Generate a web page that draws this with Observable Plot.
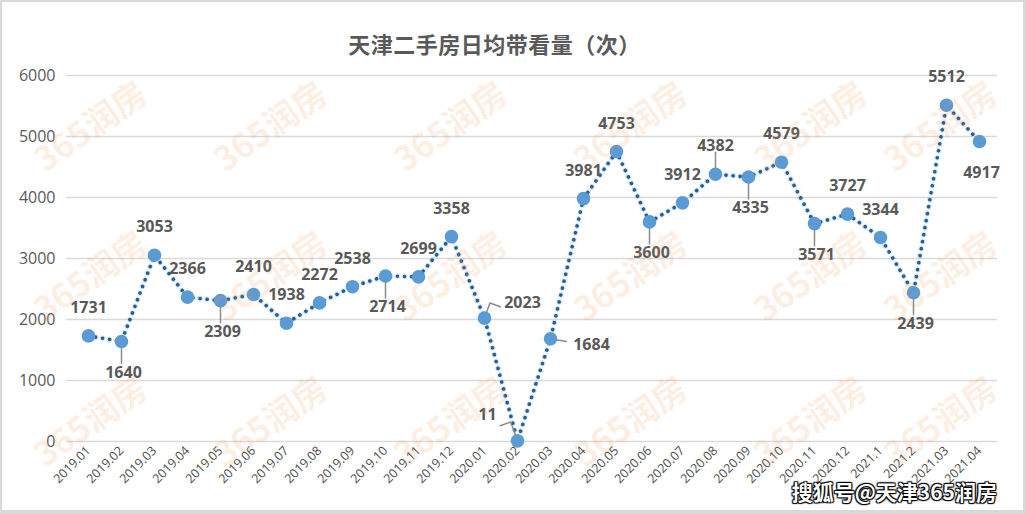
<!DOCTYPE html>
<html>
<head>
<meta charset="utf-8">
<script src="https://cdn.jsdelivr.net/npm/d3@7"></script>
<script src="https://cdn.jsdelivr.net/npm/@observablehq/plot@0.6"></script>
<style>
  html, body { margin: 0; padding: 0; background: #fff; }
  #wrap { position: relative; width: 1025px; height: 514px; overflow: hidden; background: #fff; }
  #frame { position: absolute; left: 0; top: 0; width: 1025px; height: 514px; box-sizing: border-box; border: 2px solid #d9d9d9; border-bottom-width: 4px; pointer-events: none; }
  #title { height: 60px; box-sizing: border-box; padding-top: 30px; padding-right: 36px; text-align: center; font: bold 22px/28px "Noto Sans CJK SC", "Noto Sans", sans-serif; color: #595959; }
  #title span { position: relative; top: -1px; letter-spacing: 0.5px; }
  .wm { position: absolute; font: bold 34px "Noto Sans CJK SC", sans-serif; color: rgba(244,150,80,0.16); transform: rotate(-35deg); white-space: nowrap; pointer-events: none; }
  #credit { position: absolute; right: 28px; top: 476px; font: bold 21px "Noto Sans CJK SC", sans-serif; color: #fff; text-shadow: 0 0 1px #000, 1px 1px 1px #000, -1px -1px 1px #000, 1px -1px 1px #000, -1px 1px 1px #000; }
</style>
</head>
<body>
<div id="wrap">
  <div id="title"><span>天津二手房日均带看量（次）</span></div>
  <div id="chart"></div>
  <div id="marks"></div>
  <div id="credit">搜狐号@天津365润房</div>
  <div id="frame"></div>
</div>
<script>
const months = ["2019.01","2019.02","2019.03","2019.04","2019.05","2019.06","2019.07","2019.08","2019.09","2019.10","2019.11","2019.12",
  "2020.01","2020.02","2020.03","2020.04","2020.05","2020.06","2020.07","2020.08","2020.09","2020.10","2020.11","2020.12",
  "2021.1","2021.2","2021.03","2021.04"];
const views = [1731,1640,3053,2366,2309,2410,1938,2272,2538,2714,2699,3358,
  2023,11,1684,3981,4753,3600,3912,4382,4335,4579,3571,3727,3344,2439,5512,4917];
const labelSide = ["top","bottomLead","top","top","bottomLead","top","top","top","top","bottomLead","top","top",
  "rightUp","leftUp","right","top","top","bottomLead","top","topLead","bottomLead","top","bottomLead","top","top","bottomLead","top","bottom"];
const yTicks = [0,1000,2000,3000,4000,5000,6000];
const watermarkText = "365润房";

const rows = months.map((m, i) => ({month: m, value: views[i], side: labelSide[i]}));
const font = "'Open Sans', 'Noto Sans', sans-serif";
const labelStyle = {fill: "#595959", fontSize: 16, fontWeight: "bold", fontFamily: font};
const leaderShape = {draw(ctx, l) { ctx.moveTo(0, 0); ctx.lineTo(0, -l); }};
const kinkRight = {draw(ctx, l) { ctx.moveTo(0, 0); ctx.lineTo(0, -l); ctx.lineTo(11, -l); }};
const kinkLeft = {draw(ctx, l) { ctx.moveTo(0, 0); ctx.lineTo(0, -l); ctx.lineTo(-11, -l); }};
const pick = (...s) => rows.filter(d => s.includes(d.side));

const chart = Plot.plot({
  width: 1025,
  height: 454,
  marginTop: 15,
  marginBottom: 73,
  marginLeft: 66,
  marginRight: 28,
  style: {fontFamily: font, background: "transparent"},
  x: {type: "point", domain: months, padding: 0, range: [83, 984], label: null},
  y: {domain: [0, 6000], label: null},
  marks: [
    Plot.ruleY(yTicks, {stroke: "#d9d9d9", strokeWidth: 1.5}),
    Plot.axisY({ticks: yTicks, tickSize: 0, tickPadding: 11, fontSize: 16, fill: "#595959", label: null, tickFormat: d => String(d)}),
    Plot.axisX({tickSize: 0, tickRotate: -45, tickPadding: 7, fontSize: 12.5, fill: "#4d4d4d", label: null}),
    Plot.line(rows, {x: "month", y: "value", stroke: "#9dc3e6", strokeWidth: 6, strokeOpacity: 0.35, strokeDasharray: "0.1 7", strokeLinecap: "round"}),
    Plot.line(rows, {x: "month", y: "value", stroke: "#255e91", strokeWidth: 3.6, strokeDasharray: "0.1 7", strokeLinecap: "round"}),
    Plot.vector(pick("bottomLead"), {x: "month", y: "value", length: 22, rotate: 180, anchor: "start", shape: leaderShape, stroke: "#8c8c8c", strokeWidth: 1.5}),
    Plot.vector(pick("topLead"), {x: "month", y: "value", length: 22, rotate: 0, anchor: "start", shape: leaderShape, stroke: "#8c8c8c", strokeWidth: 1.5}),
    Plot.vector(pick("rightUp"), {x: "month", y: "value", length: 16, rotate: 20, anchor: "start", shape: kinkRight, stroke: "#8c8c8c", strokeWidth: 1.5}),
    Plot.vector(pick("leftUp"), {x: "month", y: "value", length: 20, rotate: -20, anchor: "start", shape: kinkLeft, stroke: "#8c8c8c", strokeWidth: 1.5}),
    Plot.vector(pick("right"), {x: "month", y: "value", length: 16, rotate: 100, anchor: "start", shape: leaderShape, stroke: "#8c8c8c", strokeWidth: 1.5}),
    Plot.dot(rows, {x: "month", y: "value", r: 6.8, fill: "#5b9bd5", stroke: "none"}),
    Plot.text(pick("top", "topLead"), {x: "month", y: "value", text: d => String(d.value), dy: -28, ...labelStyle}),
    Plot.text(pick("bottomLead", "bottom"), {x: "month", y: "value", text: d => String(d.value), dy: 31, dx: 2, ...labelStyle}),
    Plot.text(pick("rightUp"), {x: "month", y: "value", text: d => String(d.value), dx: 38, dy: -15, ...labelStyle}),
    Plot.text(pick("leftUp"), {x: "month", y: "value", text: d => String(d.value), dx: -30, dy: -26, ...labelStyle}),
    Plot.text(pick("right"), {x: "month", y: "value", text: d => String(d.value), dx: 41, dy: 6, ...labelStyle})
  ]
});
document.getElementById("chart").appendChild(chart);

// faint repeated watermark
const wmRows = [100, 250, 395];
const wmCols = [25, 205, 385, 565, 745, 875];
const marksDiv = document.getElementById("marks");
wmRows.forEach(y => wmCols.forEach(x => {
  const s = document.createElement("div");
  s.className = "wm";
  s.style.left = x + "px";
  s.style.top = y + "px";
  s.textContent = watermarkText;
  marksDiv.appendChild(s);
}));
</script>
</body>
</html>
